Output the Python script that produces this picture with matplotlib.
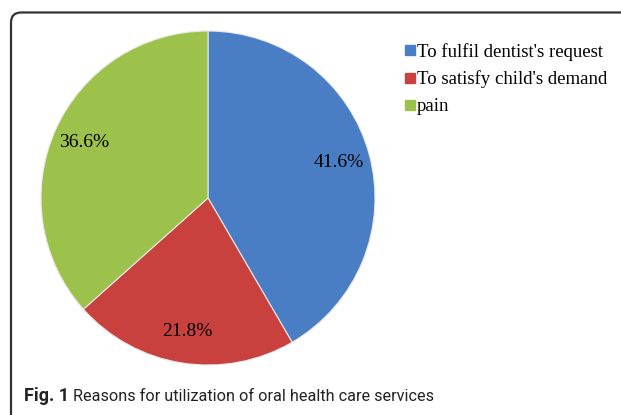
import matplotlib
matplotlib.use("Agg")
import matplotlib.pyplot as plt
from matplotlib.path import Path
from matplotlib.patches import PathPatch
from matplotlib.lines import Line2D

labels = ["To fulfil dentist's request", "To satisfy child's demand", "pain"]
shares = [41.6, 21.8, 36.6]
colors = ["#4a7ec4", "#c8413f", "#9cc24c"]
caption_bold = "Fig. 1"
caption = "Reasons for utilization of oral health care services"

W, H = 621, 415
fig = plt.figure(figsize=(W / 100, H / 100), dpi=100)

# rounded frame, top + left edges only
r = 10
verts = [(W, H - 12.5), (11 + r, H - 12.5), (11, H - 12.5), (11, H - 12.5 - r), (11, 0)]
codes = [Path.MOVETO, Path.LINETO, Path.CURVE3, Path.CURVE3, Path.LINETO]
px = matplotlib.transforms.Affine2D().scale(1 / W, 1 / H) + fig.transFigure
fig.patches.append(PathPatch(Path(verts, codes), fill=False, lw=1.6,
                             ec="#333333", transform=px))

cx, cy, rad = 208, 198, 167
ax = fig.add_axes([(cx - rad) / W, (H - cy - rad) / H, 2 * rad / W, 2 * rad / H])
wedges, texts, autotexts = ax.pie(
    shares, colors=colors, startangle=90, counterclock=False,
    autopct="%.1f%%", pctdistance=0.81,
    wedgeprops=dict(edgecolor="#e8e8e8", linewidth=0.8),
    textprops=dict(family="Liberation Serif", fontsize=14, color="black"))
ax.set_aspect("equal")
ax.set_xlim(-1, 1)
ax.set_ylim(-1, 1)

handles = [Line2D([], [], ls="", marker="s", ms=7, mfc=c, mec=c) for c in colors]
fig.legend(handles, labels, loc="upper left", bbox_to_anchor=(405 / W, 1 - 43 / H),
           frameon=False, handlelength=0.55, handletextpad=0.1, labelspacing=0.52,
           borderaxespad=0, borderpad=0,
           prop=dict(family="Liberation Serif", size=13.5))

fig.text(24 / W, 1 - 396 / H, caption_bold, family="Roboto", fontweight="bold",
         fontsize=13, va="center", color="#222222")
fig.text(73 / W, 1 - 396 / H, caption, family="Roboto", fontsize=11.7,
         va="center", color="#222222")

fig.savefig("out.png", dpi=100)
